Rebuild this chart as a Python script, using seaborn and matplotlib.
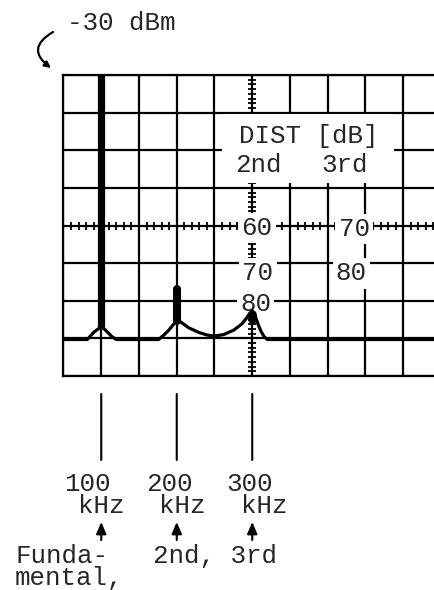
import numpy as np
import matplotlib
matplotlib.use('Agg')
import matplotlib.pyplot as plt
from matplotlib.patches import Rectangle
import seaborn as sns

# Spectrum analyser display: fundamental at 100 kHz, 2nd and 3rd harmonics
# trace (kHz, dBm), 50 kHz/div, 10 dB/div, ref -30 dBm
trace_khz = [50, 81.5, 85.5, 90.5, 96, 99, 100, 104, 109.5, 114.5, 120,
             176, 183, 189.5, 196, 200, 205, 216, 229, 240, 249, 262, 275.5,
             286, 292.5, 297, 300, 304, 308, 312, 316, 320, 550]
trace_dbm = [-100.3, -100.3, -99.4, -98.3, -97.5, -97.2, -97.0, -97.5, -98.6, -99.6, -100.3,
             -100.3, -99.1, -97.8, -96.2, -95.4, -95.6, -97.2, -98.4, -99.1, -99.4, -99.0, -97.8,
             -96.2, -94.6, -93.3, -92.7, -94.1, -96.4, -98.3, -99.6, -100.3, -100.3]

# the three spectral lines
peak_khz = [100, 200, 300]
peak_top_dbm = [-30.0, -87.0, -93.4]
peak_base_dbm = [-97.0, -95.4, -94.8]

# distortion scale printed on the screen
dist_2nd = ['60', '70', '80']
dist_3rd = ['70', '80']

freq_labels = ['100', '200', '300']
ref_level = '-30 dBm'

# ---- style
sns.set_style('white')
plt.rcParams['font.family'] = ['Liberation Mono', 'DejaVu Sans Mono']
FS = 18.6
INK = 'black'

fig = plt.figure(figsize=(4.35, 5.90), dpi=100)
W, H = 435.0, 590.0
ax = fig.add_axes([63.5 / W, 1 - 376 / H, 377.5 / W, 301 / H])

ax.set_xlim(50, 550)
ax.set_ylim(-110, -30)
ax.set_xticks(np.arange(50, 551, 50))
ax.set_yticks(np.arange(-110, -29, 10))
ax.tick_params(length=0, labelbottom=False, labelleft=False)
ax.set_axisbelow(True)
ax.grid(True, color=INK, lw=1.6)
for s in ax.spines.values():
    s.set_color(INK)
    s.set_linewidth(1.6)

# graticule centre lines with fine ticks
hx = np.arange(50, 551, 10.0)
hx = hx[hx % 50 != 0]
ax.plot(hx, np.full_like(hx, -70.0), ls='none', marker='|', ms=6, mew=1.3, color=INK, zorder=2)
vy = np.arange(-110, -29, 1.25)
vy = vy[vy % 10 != 0]
ax.plot(np.full_like(vy, 300.0), vy, ls='none', marker='_', ms=6, mew=1.3, color=INK, zorder=2)

# blank panel behind the DIST legend
ax.add_patch(Rectangle((260, -58.7), 228, 18.3, fc='white', ec='none', zorder=2.5))

# trace
sns.lineplot(x=trace_khz, y=trace_dbm, sort=False, estimator=None, color=INK,
             lw=2.3, ax=ax, zorder=4)
caps = ['butt', 'round', 'round']
widths = [5.2, 5.8, 6.2]
for f, top, base, cs, w in zip(peak_khz, peak_top_dbm, peak_base_dbm, caps, widths):
    ax.plot([f, f], [base, top], color=INK, lw=w, solid_capstyle=cs, zorder=4)

box = dict(boxstyle='square,pad=0.12', fc='white', ec='none')
ax.text(374.5, -48.2, 'DIST [dB]', fontsize=FS, ha='center', va='baseline', zorder=3)
ax.text(308.3, -55.8, '2nd', fontsize=FS, ha='center', va='baseline', zorder=3)
ax.text(422.8, -55.8, '3rd', fontsize=FS, ha='center', va='baseline', zorder=3)
for lab, x, y in zip(dist_2nd, [306.3, 307.6, 304.7], [-72.5, -84.5, -92.6]):
    ax.text(x, y, lab, fontsize=FS, ha='center', va='baseline', bbox=box, zorder=3)
for lab, x, y in zip(dist_3rd, [434.8, 431.0], [-72.8, -84.6]):
    ax.text(x, y, lab, fontsize=FS, ha='center', va='baseline', bbox=box, zorder=3)

# reference level note with curved arrow
fig.text(67 / W, 1 - 30 / H, ref_level, fontsize=FS, ha='left', va='baseline')
ax.annotate('', xy=(51, H - 68), xycoords='figure pixels',
            xytext=(53, H - 32), textcoords='figure pixels',
            arrowprops=dict(arrowstyle='-|>', connectionstyle='arc3,rad=0.75',
                            lw=1.6, color=INK, mutation_scale=9, shrinkA=0, shrinkB=0))

# frequency markers below the screen
num_dx = [-14.25, -7.25, -2.75]
khz_dx = [0.25, 5.25, 11.75]
co = ('data', 'axes fraction')
for f, lab, ndx, kdx in zip(peak_khz, freq_labels, num_dx, khz_dx):
    ax.annotate('', xy=(f, -0.279), xytext=(f, -0.0598), xycoords=co, textcoords=co,
                annotation_clip=False,
                arrowprops=dict(arrowstyle='-', lw=1.5, color=INK, shrinkA=0, shrinkB=0))
    ax.annotate(lab, xy=(f, -0.3804), xycoords=co, xytext=(ndx, 0), textcoords='offset pixels',
                fontsize=FS, ha='center', va='baseline', annotation_clip=False)
    ax.annotate('kHz', xy=(f, -0.456), xycoords=co, xytext=(kdx, 0), textcoords='offset pixels',
                fontsize=FS, ha='center', va='baseline', annotation_clip=False)
    ax.annotate('', xy=(f, -0.485), xytext=(f, -0.545), xycoords=co, textcoords=co,
                annotation_clip=False,
                arrowprops=dict(arrowstyle='-|>,head_length=0.7,head_width=0.3', lw=1.5,
                                color=INK, mutation_scale=10, shrinkA=0, shrinkB=0))

fig.text(15 / W, 1 - 562.7 / H, 'Funda-', fontsize=FS, ha='left', va='baseline')
fig.text(15 / W, 1 - 585 / H, 'mental,', fontsize=FS, ha='left', va='baseline')
fig.text(153 / W, 1 - 562.7 / H, '2nd, 3rd', fontsize=FS, ha='left', va='baseline')

fig.savefig('out.png', dpi=100, facecolor='white')
